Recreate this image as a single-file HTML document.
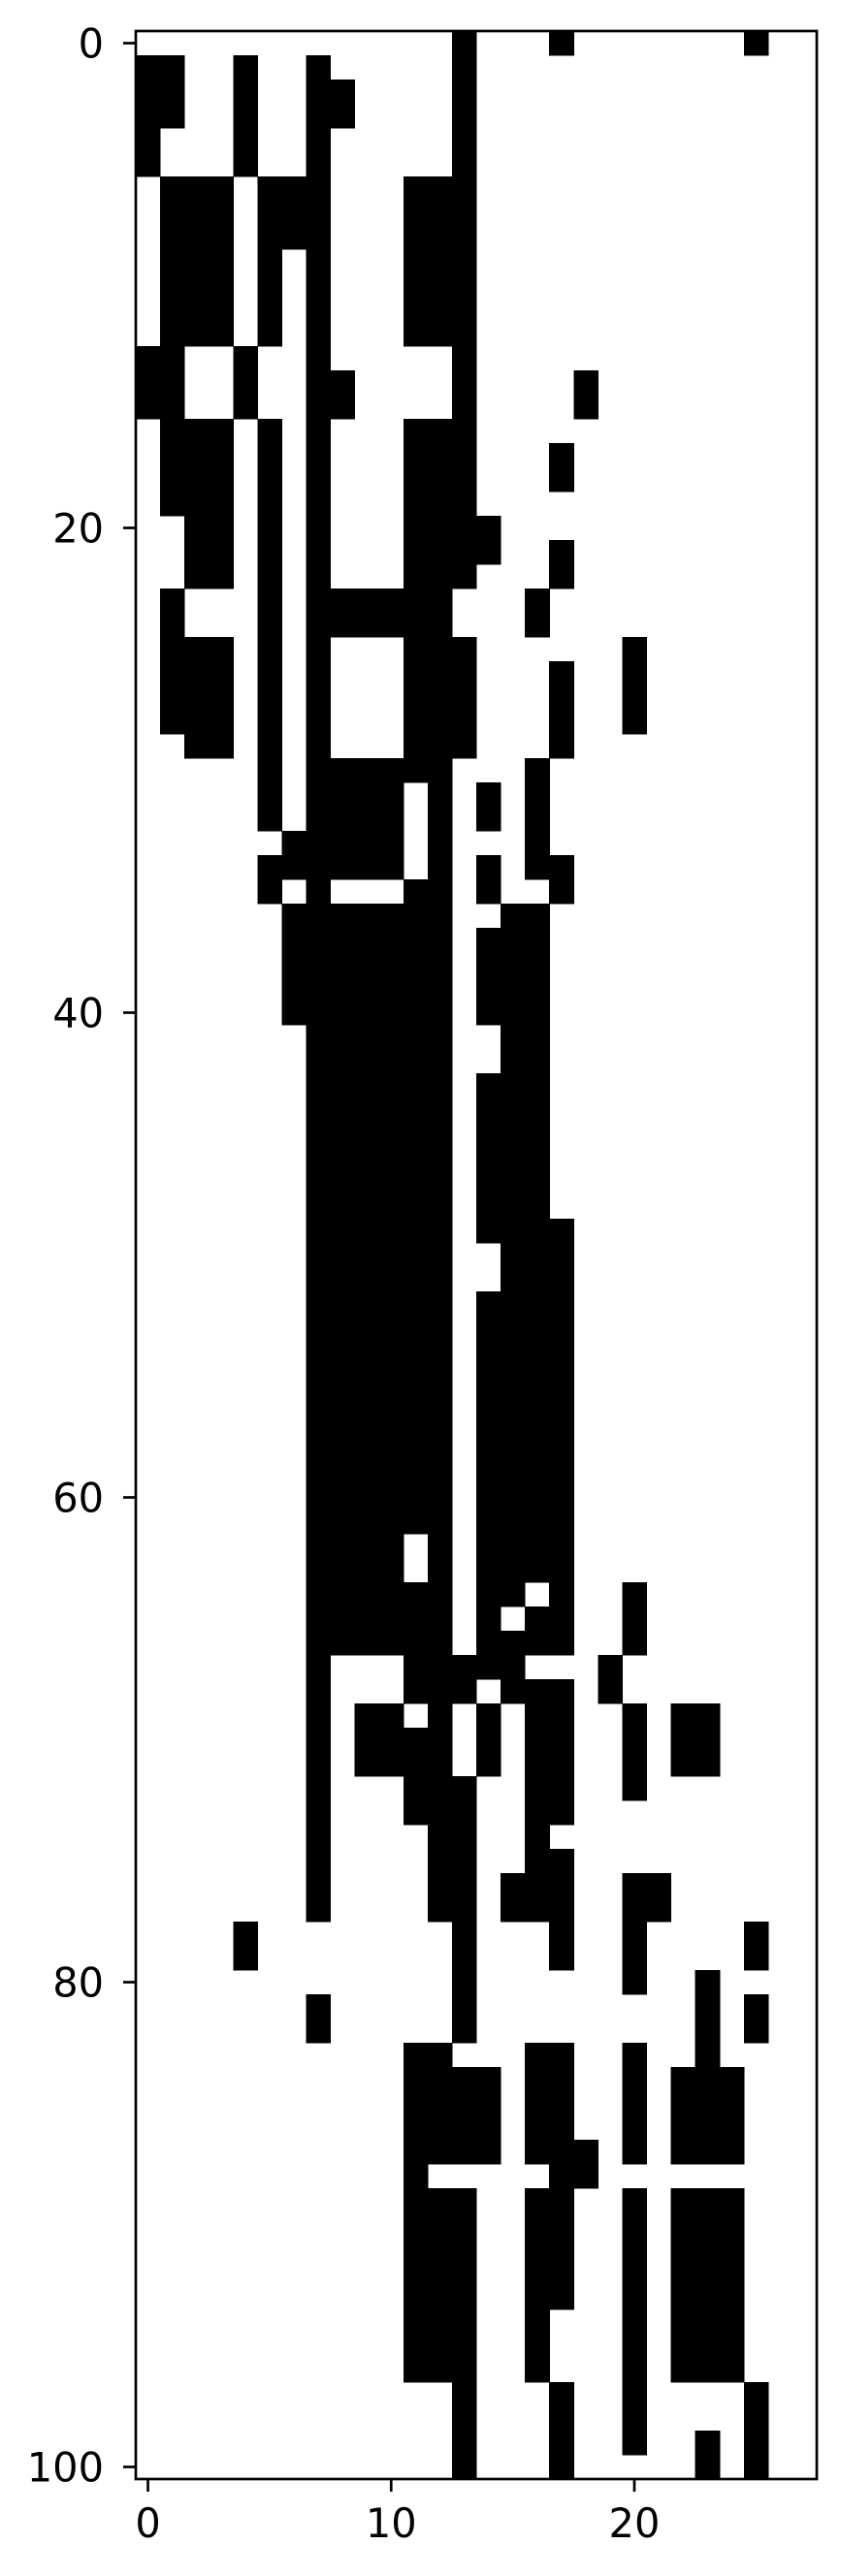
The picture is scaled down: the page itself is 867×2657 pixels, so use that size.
<!DOCTYPE html>
<html>
<head>
<meta charset="utf-8">
<style>
  html,body{margin:0;padding:0;background:#fff;}
  svg{display:block;}
  text{font-family:"DejaVu Sans","Liberation Sans",sans-serif;font-size:41.5px;fill:#000;}
</style>
</head>
<body>
<svg id="chart" width="867" height="2657" viewBox="0 0 867 2657" xmlns="http://www.w3.org/2000/svg">
  <rect x="0" y="0" width="867" height="2657" fill="#fff"/>
  <g id="cells" shape-rendering="crispEdges"></g>
  <g id="axes"></g>
</svg>
<script>
const nCols = 28;
const nRows = 101;
const xTickValues = [0, 10, 20];
const yTickValues = [0, 20, 40, 60, 80, 100];
// For each row (0..100), the column indices of black (value 1) cells
const blackCells = [
[13,17,25],
[0,1,4,7,13],
[0,1,4,7,8,13],
[0,1,4,7,8,13],
[0,4,7,13],
[0,4,7,13],
[1,2,3,5,6,7,11,12,13],
[1,2,3,5,6,7,11,12,13],
[1,2,3,5,6,7,11,12,13],
[1,2,3,5,7,11,12,13],
[1,2,3,5,7,11,12,13],
[1,2,3,5,7,11,12,13],
[1,2,3,5,7,11,12,13],
[0,1,4,7,13],
[0,1,4,7,8,13,18],
[0,1,4,7,8,13,18],
[1,2,3,5,7,11,12,13],
[1,2,3,5,7,11,12,13,17],
[1,2,3,5,7,11,12,13,17],
[1,2,3,5,7,11,12,13],
[2,3,5,7,11,12,13,14],
[2,3,5,7,11,12,13,14,17],
[2,3,5,7,11,12,13,17],
[1,5,7,8,9,10,11,12,16],
[1,5,7,8,9,10,11,12,16],
[1,2,3,5,7,11,12,13,20],
[1,2,3,5,7,11,12,13,17,20],
[1,2,3,5,7,11,12,13,17,20],
[1,2,3,5,7,11,12,13,17,20],
[2,3,5,7,11,12,13,17],
[5,7,8,9,10,11,12,16],
[5,7,8,9,10,12,14,16],
[5,7,8,9,10,12,14,16],
[6,7,8,9,10,12,16],
[5,6,7,8,9,10,12,14,16,17],
[5,7,11,12,14,17],
[6,7,8,9,10,11,12,15,16],
[6,7,8,9,10,11,12,14,15,16],
[6,7,8,9,10,11,12,14,15,16],
[6,7,8,9,10,11,12,14,15,16],
[6,7,8,9,10,11,12,14,15,16],
[7,8,9,10,11,12,15,16],
[7,8,9,10,11,12,15,16],
[7,8,9,10,11,12,14,15,16],
[7,8,9,10,11,12,14,15,16],
[7,8,9,10,11,12,14,15,16],
[7,8,9,10,11,12,14,15,16],
[7,8,9,10,11,12,14,15,16],
[7,8,9,10,11,12,14,15,16],
[7,8,9,10,11,12,14,15,16,17],
[7,8,9,10,11,12,15,16,17],
[7,8,9,10,11,12,15,16,17],
[7,8,9,10,11,12,14,15,16,17],
[7,8,9,10,11,12,14,15,16,17],
[7,8,9,10,11,12,14,15,16,17],
[7,8,9,10,11,12,14,15,16,17],
[7,8,9,10,11,12,14,15,16,17],
[7,8,9,10,11,12,14,15,16,17],
[7,8,9,10,11,12,14,15,16,17],
[7,8,9,10,11,12,14,15,16,17],
[7,8,9,10,11,12,14,15,16,17],
[7,8,9,10,11,12,14,15,16,17],
[7,8,9,10,12,14,15,16,17],
[7,8,9,10,12,14,15,16,17],
[7,8,9,10,11,12,14,15,17,20],
[7,8,9,10,11,12,14,16,17,20],
[7,8,9,10,11,12,14,15,16,17,20],
[7,11,12,13,14,15,19],
[7,11,12,13,15,16,17,19],
[7,9,10,12,14,16,17,20,22,23],
[7,9,10,11,12,14,16,17,20,22,23],
[7,9,10,11,12,14,16,17,20,22,23],
[7,11,12,13,16,17,20],
[7,11,12,13,16,17],
[7,12,13,16],
[7,12,13,16,17],
[7,12,13,15,16,17,20,21],
[7,12,13,15,16,17,20,21],
[4,13,17,20,25],
[4,13,17,20,25],
[13,20,23],
[7,13,23,25],
[7,13,23,25],
[11,12,16,17,20,23],
[11,12,13,14,16,17,20,22,23,24],
[11,12,13,14,16,17,20,22,23,24],
[11,12,13,14,16,17,20,22,23,24],
[11,12,13,14,16,17,18,20,22,23,24],
[11,17,18],
[11,12,13,16,17,20,22,23,24],
[11,12,13,16,17,20,22,23,24],
[11,12,13,16,17,20,22,23,24],
[11,12,13,16,17,20,22,23,24],
[11,12,13,16,17,20,22,23,24],
[11,12,13,16,20,22,23,24],
[11,12,13,16,20,22,23,24],
[11,12,13,16,20,22,23,24],
[13,17,20,25],
[13,17,20,25],
[13,17,20,23,25],
[13,17,23,25]
];

const NS = "http://www.w3.org/2000/svg";
const plotLeft = 140, plotRight = 842, plotTop = 32, plotBottom = 2557;
const cellW = (plotRight - plotLeft) / nCols;
const cellH = (plotBottom - plotTop) / nRows;
function xScale(c){ return plotLeft + c * cellW; }       // left edge of column c
function yScale(r){ return plotTop + r * cellH; }        // top edge of row r
function xCenter(v){ return xScale(v) + cellW / 2; }
function yCenter(v){ return yScale(v) + cellH / 2; }

const cellsG = document.getElementById('cells');
blackCells.forEach(function(cols, r){
  cols.forEach(function(c){
    const rect = document.createElementNS(NS, 'rect');
    rect.setAttribute('x', xScale(c).toFixed(2));
    rect.setAttribute('y', yScale(r).toFixed(2));
    rect.setAttribute('width', (cellW + 0.6).toFixed(2));
    rect.setAttribute('height', (cellH + 0.6).toFixed(2));
    rect.setAttribute('fill', '#000');
    
    
    cellsG.appendChild(rect);
  });
});

const axesG = document.getElementById('axes');
const frame = document.createElementNS(NS, 'rect');
frame.setAttribute('x', plotLeft);
frame.setAttribute('y', plotTop);
frame.setAttribute('width', plotRight - plotLeft);
frame.setAttribute('height', plotBottom - plotTop);
frame.setAttribute('fill', 'none');
frame.setAttribute('stroke', '#000');
frame.setAttribute('stroke-width', '2.7');


axesG.appendChild(frame);

xTickValues.forEach(function(v){
  const x = xCenter(v);
  const t = document.createElementNS(NS, 'line');
  t.setAttribute('x1', x); t.setAttribute('x2', x);
  t.setAttribute('y1', plotBottom); t.setAttribute('y2', plotBottom + 13);
  t.setAttribute('stroke', '#000'); t.setAttribute('stroke-width', '2.7');
  
  
  axesG.appendChild(t);
  const lab = document.createElementNS(NS, 'text');
  lab.setAttribute('x', x);
  lab.setAttribute('y', 2617);
  lab.setAttribute('text-anchor', 'middle');
  lab.textContent = String(v);
  
  
  axesG.appendChild(lab);
});

yTickValues.forEach(function(v){
  const y = yCenter(v);
  const t = document.createElementNS(NS, 'line');
  t.setAttribute('x1', plotLeft - 13); t.setAttribute('x2', plotLeft);
  t.setAttribute('y1', y); t.setAttribute('y2', y);
  t.setAttribute('stroke', '#000'); t.setAttribute('stroke-width', '2.7');
  
  
  axesG.appendChild(t);
  const lab = document.createElementNS(NS, 'text');
  lab.setAttribute('x', 107);
  lab.setAttribute('y', y + 15);
  lab.setAttribute('text-anchor', 'end');
  lab.textContent = String(v);
  
  
  axesG.appendChild(lab);
});
</script>
</body>
</html>
